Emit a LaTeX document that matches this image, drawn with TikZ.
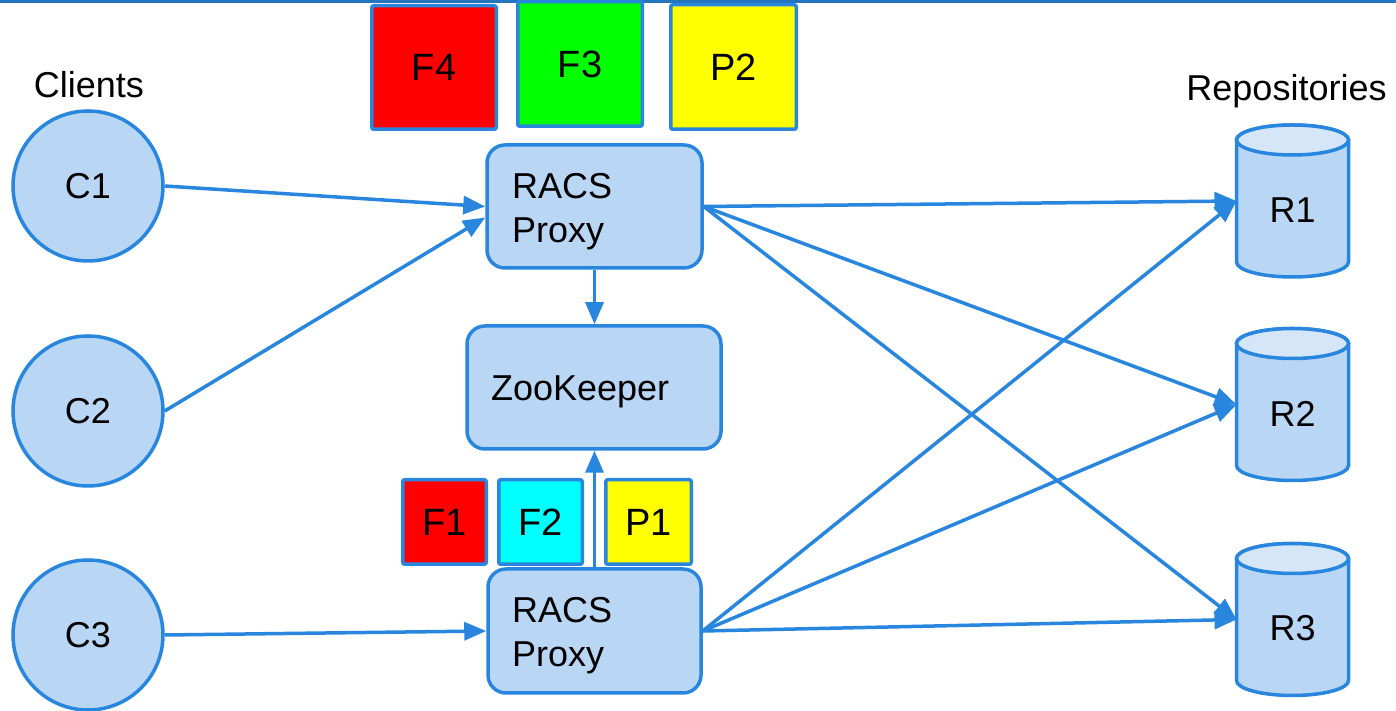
\documentclass[tikz,border=0pt]{standalone}
\usepackage{fontspec}
\setmainfont{Liberation Sans}
\usetikzlibrary{arrows.meta,calc,backgrounds}
\definecolor{edge}{HTML}{2886DE}
\definecolor{boxfill}{HTML}{B9D7F5}
\definecolor{capfill}{HTML}{D5E6F8}
\definecolor{rulecol}{HTML}{2574BE}
\definecolor{tagred}{HTML}{FF0000}
\definecolor{taggreen}{HTML}{00FF00}
\definecolor{tagyellow}{HTML}{FFFF00}
\definecolor{tagcyan}{HTML}{00FFFF}
% lower a text block without changing the size the node sees
\newcommand{\lowered}[2]{\raisebox{-#1}[\height][\depth]{#2}}
\newcommand{\twolines}[2]{\begin{tabular}{@{}l@{}}#1\\#2\end{tabular}}

\begin{document}
\begin{tikzpicture}[x=1pt,y=1pt,
  font=\fontsize{36}{44}\selectfont,
  client/.style={circle,draw=edge,fill=boxfill,line width=3.5pt,minimum size=150pt,inner sep=0pt},
  proxy/.style={rectangle,rounded corners=18pt,draw=edge,fill=boxfill,line width=3.5pt,inner sep=0pt,align=left},
  tag/.style={rectangle,rounded corners=2pt,draw=edge,line width=3.5pt,inner sep=0pt,font=\fontsize{38}{44}\selectfont},
  repo/.style={rectangle,inner sep=0pt,outer sep=0pt,minimum width=112pt,minimum height=122pt},
  link/.style={draw=edge,line width=3.5pt,-{Triangle[length=22pt,width=18pt]}},
]
\useasboundingbox (0,0) rectangle (1396,711);

% frame rule along the top edge
\draw[rulecol,line width=3pt] (0,709.5) -- (1396,709.5);

% clients
\node[client] (c1) at (88,525) {C1};
\node[client] (c2) at (88,300) {C2};
\node[client] (c3) at (88,76) {C3};
\node[anchor=base] (clients) at (89,613) {Clients};

% proxies and coordination service
\node[proxy,minimum width=215pt,minimum height=123pt,text width=165pt] (up) at (594.5,504.5) {\lowered{5pt}{\twolines{RACS}{Proxy}}};
\node[proxy,minimum width=254pt,minimum height=123pt,text width=206pt] (zk) at (594,323.5) {\lowered{4pt}{ZooKeeper}};
\node[proxy,minimum width=213pt,minimum height=124pt,text width=165pt] (low) at (594.5,80) {\lowered{5pt}{\twolines{RACS}{Proxy}}};

% request tags
\node[tag,fill=tagred,minimum width=124.5pt,minimum height=123.5pt] (f4) at (434,643.5) {F4};
\node[tag,fill=taggreen,minimum width=124.5pt,minimum height=124.5pt] (f3) at (580,647) {F3};
\node[tag,fill=tagyellow,minimum width=125.5pt,minimum height=124.5pt] (p2) at (733.5,644) {P2};
\node[tag,fill=tagred,minimum width=83.5pt,minimum height=84.5pt] (f1) at (444.5,189) {F1};
\node[tag,fill=tagcyan,minimum width=83.5pt,minimum height=84.5pt] (f2) at (540.5,189) {F2};
\node[tag,fill=tagyellow,minimum width=85.5pt,minimum height=84.5pt] (p1) at (648.5,189) {P1};

% repositories
\node[anchor=base] (repos) at (1286.5,610) {Repositories};
\node[repo] (r1) at (1292.5,510) {\lowered{9pt}{R1}};
\node[repo] (r2) at (1292.5,306.5) {\lowered{9pt}{R2}};
\node[repo] (r3) at (1292.5,91.5) {\lowered{9pt}{R3}};

\begin{scope}[on background layer]
  \fill[white] (0,0) rectangle (1396,711);
  \foreach \r in {r1,r2,r3}{
    \filldraw[draw=edge,fill=boxfill,line width=3.5pt]
      (\r.north west) -- (\r.south west)
      arc[start angle=180,end angle=360,x radius=56pt,y radius=15pt]
      -- (\r.north east)
      arc[start angle=0,end angle=180,x radius=56pt,y radius=15pt] -- cycle;
    \filldraw[draw=edge,fill=capfill,line width=3.5pt]
      (\r.north) ellipse[x radius=56pt,y radius=15pt];
  }
\end{scope}

% connectors
\draw[link] (c1.east) -- (up.west);
\draw[link] (c2.east) -- ($(up.west)+(0,-11)$);
\draw[link] (c3.east) -- (low.west);
\draw[link] (up.south) -- (up.south |- zk.north);
\draw[link] (low.north) -- (low.north |- zk.south);
\foreach \r in {r1,r2,r3}{
  \draw[link] (up.east) -- (\r.west);
  \draw[link] (low.east) -- (\r.west);
}
\end{tikzpicture}
\end{document}
